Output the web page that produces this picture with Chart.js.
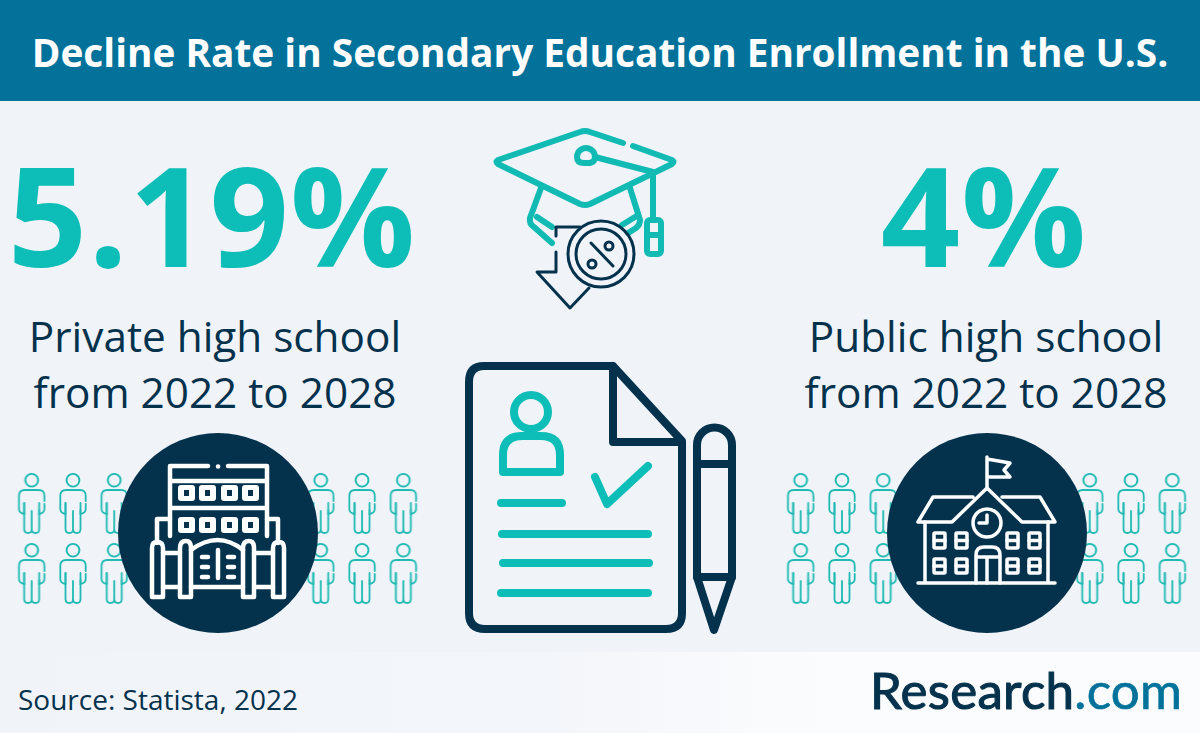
<!DOCTYPE html>
<html>
<head>
<meta charset="utf-8">
<title>Decline Rate in Secondary Education Enrollment in the U.S.</title>
<script src="https://cdn.jsdelivr.net/npm/chart.js@4"></script>
<style>
  html, body { margin: 0; padding: 0; }
  body { width: 1200px; height: 733px; position: relative; overflow: hidden; background: #f0f4f9; font-family: "Open Sans", sans-serif; }
  #header { position: absolute; left: 0; top: 0; width: 1200px; height: 101px; background: #02729b; }
  #title { position: absolute; left: 0; top: 0; width: 1200px; line-height: 104px; text-align: center; color: #fff; font-size: 38.8px; font-weight: 700; white-space: nowrap; }
  #footer { position: absolute; left: 0; top: 652px; width: 1200px; height: 81px; background: linear-gradient(90deg, #f0f4f9 0%, #f3f6fa 45%, #fbfcfd 70%); }
  .rate { position: absolute; top: 118px; line-height: 190px; font-size: 139px; font-weight: 700; letter-spacing: 1px; color: #0dbdb7; text-align: center; white-space: nowrap; }
  .caption { position: absolute; top: 308px; line-height: 56px; font-size: 42.3px; color: #04324d; text-align: center; white-space: nowrap; }
  #source { position: absolute; left: 18px; top: 682px; font-size: 28px; line-height: 34px; color: #04324d; }
  #logo { position: absolute; left: 870px; top: 659px; font-family: Lato, sans-serif; font-size: 51px; line-height: 62px; font-weight: 400; color: #04324d; -webkit-text-stroke: 1.1px #04324d; letter-spacing: 0.3px; }
  #logo span { color: #02729b; -webkit-text-stroke: 0.7px #02729b; }
  canvas { position: absolute; }
  #icons { position: absolute; left: 0; top: 0; }
</style>
</head>
<body>
<div id="header"></div>
<div id="title"></div>
<div id="footer"></div>
<div class="rate" id="rate-private" style="left:-2px;width:428px"></div>
<div class="rate" id="rate-public" style="left:800px;width:368px"></div>
<div class="caption" id="caption-private" style="left:0;width:430px"></div>
<div class="caption" id="caption-public" style="left:786px;width:400px"></div>
<div id="source"></div>
<div id="logo">Research<span>.com</span></div>

<canvas id="people-private" width="413" height="210" style="left:11px;top:433px"></canvas>
<canvas id="people-public" width="413" height="210" style="left:780px;top:433px"></canvas>

<svg id="icons" width="1200" height="733" viewBox="0 0 1200 733" fill="none" stroke-linecap="round" stroke-linejoin="round">
  <!-- graduation cap -->
  <g stroke="#12bab4" stroke-width="6">
    <path d="M623 143 L590 132 Q585 130 580 132 L498 160 Q495 162 498 164 L580 204 Q585 206 590 204 L672 164 Q675 162 672 160 L633 146"/>
    <path d="M541 188 L530 218 Q529 224 534 227 L552 243"/>
    <path d="M537 217 L552 227"/>
    <path d="M630 188 L640 220 Q640 225 636 228 L625 235"/>
    <path d="M635 217 L622 225"/>
    <path d="M595 157 L653 172 L653 220"/>
    <path d="M595 157 A9 9 0 1 0 577 157 Q577 163 584 163 L590 163 Q595 162 595 157 Z"/>
    <rect x="647" y="220" width="14" height="34" rx="3"/>
    <path d="M647 235 H661"/>
  </g>
  <g stroke="#04324d" stroke-width="3">
    <path d="M556 236 V227 H580"/>
    <path d="M556 252 V272 H537 L570 308 L589 288"/>
    <circle cx="601" cy="254" r="33" fill="#f0f4f9"/>
    <circle cx="601" cy="254" r="25"/>
    <path d="M591 243 L613 266"/>
    <circle cx="609" cy="246" r="4"/>
    <circle cx="592" cy="264" r="4"/>
  </g>
  <!-- document and pencil -->
  <g stroke="#04324d" stroke-width="8">
    <path d="M613 366 H484 Q469 366 469 382 V613 Q469 629 485 629 H666 Q682 629 682 613 V441 L613 366 V442 H682"/>
    <path d="M697 577 V445 A17.5 17.5 0 0 1 732 445 V577 L714 630 Z"/>
    <path d="M697 464 H732 M697 577 H732"/>
  </g>
  <g stroke="#0dbdb7" stroke-width="8">
    <circle cx="531" cy="412" r="17"/>
    <path d="M503 472 V455 Q503 436 522 436 H541 Q560 436 560 455 V472 Z"/>
    <path d="M501 503 H562 M595 477 L607 504 L648 466 M502 534 H648 M503 563 H649 M501 593 H648"/>
  </g>
  <!-- private school badge -->
  <circle cx="218" cy="533" r="100" fill="#04324d"/>
  <g stroke="#fff" stroke-width="4.5">
    <path d="M170 536 V466 H208 M228 466 H267 V536 M171 481 H266 M171 508 H266"/>
    <path d="M218 466.5 H218.1"/>
    <path d="M170 519 H157 V543 M267 519 H278 V543"/>
    <path d="M152 597 V548 Q152 542 157 542 Q163 542 163 548 V597 Z"/>
    <path d="M180 597 V548 Q180 541 186 541 Q191 541 191 548 V597 Z"/>
    <path d="M243 597 V548 Q243 541 249 541 Q254 541 254 548 V597 Z"/>
    <path d="M273 597 V548 Q273 542 279 542 Q284 542 284 548 V597 Z"/>
    <path d="M191 550 Q218 530 243 550 M163 553 H180 M254 553 H273 M163 587 H180 M254 587 H273 M191 587 H243"/>
    <path d="M218 550 V578 M202 557 H208 M202 567 H208 M202 577 H208 M228 557 H234 M228 567 H234 M228 577 H234"/>
  </g>
  <g fill="#fff">
    <rect x="178" y="485" width="17" height="16" rx="3"/><rect x="199" y="485" width="17" height="16" rx="3"/>
    <rect x="221" y="485" width="17" height="16" rx="3"/><rect x="242" y="485" width="17" height="16" rx="3"/>
    <rect x="178" y="517" width="17" height="16" rx="3"/><rect x="199" y="517" width="17" height="16" rx="3"/>
    <rect x="221" y="517" width="17" height="16" rx="3"/><rect x="242" y="517" width="17" height="16" rx="3"/>
  </g>
  <g fill="#04324d">
    <rect x="184" y="490" width="5" height="6"/><rect x="205" y="490" width="5" height="6"/>
    <rect x="227" y="490" width="5" height="6"/><rect x="248" y="490" width="5" height="6"/>
    <rect x="184" y="522" width="5" height="6"/><rect x="205" y="522" width="5" height="6"/>
    <rect x="227" y="522" width="5" height="6"/><rect x="248" y="522" width="5" height="6"/>
  </g>
  <!-- public school badge -->
  <circle cx="987" cy="533" r="100" fill="#04324d"/>
  <g stroke="#fff" stroke-width="3.5">
    <path d="M987 457 V487 M987 459 L1010 463 L1004 470 L1010 477 H987"/>
    <path d="M973 497 H933 L918 522 H952 L987 488 L1022 522 H1055 L1040 497 H1002"/>
    <path d="M925 522 V583 M1048 522 V583 M918 583 H1055"/>
    <circle cx="987" cy="523" r="14"/>
    <path d="M987 515 V523 H979"/>
    <rect x="934" y="533" width="11" height="15" rx="1"/><rect x="956" y="533" width="11" height="15" rx="1"/>
    <rect x="1007" y="533" width="11" height="15" rx="1"/><rect x="1029" y="533" width="11" height="15" rx="1"/>
    <rect x="934" y="559" width="11" height="14" rx="1"/><rect x="956" y="559" width="11" height="14" rx="1"/>
    <rect x="1007" y="559" width="11" height="14" rx="1"/><rect x="1029" y="559" width="11" height="14" rx="1"/>
    <path d="M934 540.5 H945 M956 540.5 H967 M1007 540.5 H1018 M1029 540.5 H1040 M934 566 H945 M956 566 H967 M1007 566 H1018 M1029 566 H1040"/>
    <path d="M976 583 V555 Q976 547 984 547 H992 Q1000 547 1000 555 V583 M976 557 H1000 M987 557 V583"/>
  </g>
</svg>

<script>
// text of the graphic
const titleText = "Decline Rate in Secondary Education Enrollment in the U.S.";
const rates = [5.19, 4];
const schoolTypes = ["Private high school", "Public high school"];
const periodText = "from 2022 to 2028";
const sourceText = "Source: Statista, 2022";

// pictogram grid: every figure sits on a column and a row
const pictogramColumns = [1, 2, 3, 4, 5, 6, 7, 8, 9, 10];
const pictogramRows = [1, 2];

document.getElementById("title").textContent = titleText;
document.getElementById("rate-private").textContent = rates[0] + "%";
document.getElementById("rate-public").textContent = rates[1] + "%";
document.getElementById("caption-private").innerHTML = schoolTypes[0] + "<br>" + periodText;
document.getElementById("caption-public").innerHTML = schoolTypes[1] + "<br>" + periodText;
document.getElementById("source").textContent = sourceText;

// outline of one person, used as the point style
function makePersonIcon() {
  const icon = document.createElement("canvas");
  icon.width = 32;
  icon.height = 64;
  const ctx = icon.getContext("2d");
  ctx.translate(16, 2);
  ctx.strokeStyle = "#1fbab3";
  ctx.lineWidth = 1.8;
  ctx.lineCap = "round";
  ctx.stroke(new Path2D("M0 0.8 a6.4 6.4 0 1 0 0.01 0 Z"));
  ctx.stroke(new Path2D("M-7.5 30 V56 Q-7.5 60 -3.7 60 Q0 60 0 56 V38 M0 56 Q0 60 3.7 60 Q7.5 60 7.5 56 V30"));
  ctx.stroke(new Path2D("M-7.5 41 Q-12.7 40 -12.7 36 V23 Q-12.7 17 -7 17 H7 Q12.7 17 12.7 23 V28 M12.7 31 V36 Q12.7 40 7.5 41 V37"));
  ctx.stroke(new Path2D("M-7.5 41 V30"));
  return icon;
}

const personIcon = makePersonIcon();

function drawPeople(canvasId) {
  const points = [];
  pictogramRows.forEach((row) => {
    pictogramColumns.forEach((column) => {
      points.push({ x: column, y: row });
    });
  });

  new Chart(document.getElementById(canvasId).getContext("2d"), {
    type: "scatter",
    data: {
      datasets: [
        {
          data: points,
          pointStyle: personIcon,
        },
      ],
    },
    options: {
      responsive: false,
      animation: false,
      layout: { padding: 0, autoPadding: false },
      plugins: {
        legend: { display: false },
        tooltip: { enabled: false },
      },
      scales: {
        x: { type: "linear", min: 0.5, max: 10.5, display: false },
        y: { type: "linear", min: 0, max: 3, reverse: true, display: false },
      },
    },
  });
}

drawPeople("people-private");
drawPeople("people-public");
</script>
</body>
</html>
